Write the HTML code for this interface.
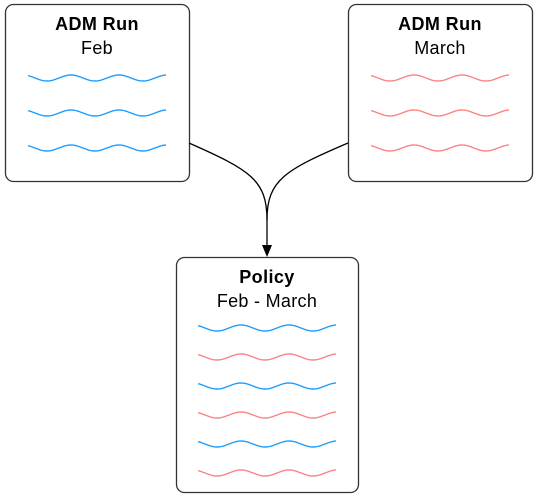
<!DOCTYPE html>
<html><head><meta charset="utf-8"><style>
html,body{margin:0;padding:0;background:#fff;}
svg{display:block;}
text{font-family:"Liberation Sans",Arial,sans-serif;fill:#000;}
</style></head><body>
<svg id="s" width="537" height="497" viewBox="0 0 537 497" xmlns="http://www.w3.org/2000/svg">
<rect x="5.5" y="4.5" width="184" height="177" rx="8" fill="#fff" stroke="#333" stroke-width="1.3"/>
<rect x="348.5" y="4.5" width="184" height="177" rx="8" fill="#fff" stroke="#333" stroke-width="1.3"/>
<rect x="176.5" y="257.5" width="182" height="235" rx="8" fill="#fff" stroke="#333" stroke-width="1.3"/>
<text x="97" y="30" font-size="18" font-weight="bold" text-anchor="middle" letter-spacing="0.4">ADM Run</text>
<text x="97" y="54" font-size="18" text-anchor="middle" letter-spacing="0.3">Feb</text>
<text x="440" y="30" font-size="18" font-weight="bold" text-anchor="middle" letter-spacing="0.4">ADM Run</text>
<text x="440" y="54" font-size="18" text-anchor="middle" letter-spacing="0.3">March</text>
<text x="267" y="283" font-size="18" font-weight="bold" text-anchor="middle" letter-spacing="0.4">Policy</text>
<text x="267" y="307" font-size="18" text-anchor="middle" letter-spacing="0.3">Feb - March</text>
<path d="M189 143 C 250 170, 267 180, 267 220 L267 246" fill="none" stroke="#000" stroke-width="1.3"/>
<path d="M348 143 C 285 170, 267 180, 267 220" fill="none" stroke="#000" stroke-width="1.3"/>
<path d="M262 245 L272 245 L267 257 Z" fill="#000"/>
<g id="w"></g>
</svg>
<script>
var g=document.getElementById('w');
function wave(x0,x1,c,col){var p='';for(var x=x0;x<=x1;x+=1){var y=c+3*Math.sin(2*Math.PI*(x-x0-7)/48);p+=(p?' L':'M')+x+' '+y.toFixed(2);}
var e=document.createElementNS('http://www.w3.org/2000/svg','path');e.setAttribute('d',p);e.setAttribute('fill','none');e.setAttribute('stroke',col);e.setAttribute('stroke-width','1.4');g.appendChild(e);}
var B='#1a9cff',R='#ff8080';
[78,113,148].forEach(function(y){wave(28,166,y,B);wave(371,509,y,R);});
[328,357,386,415,444,473].forEach(function(y,i){wave(198,336,y,i%2?R:B);});
</script>
</body></html>
